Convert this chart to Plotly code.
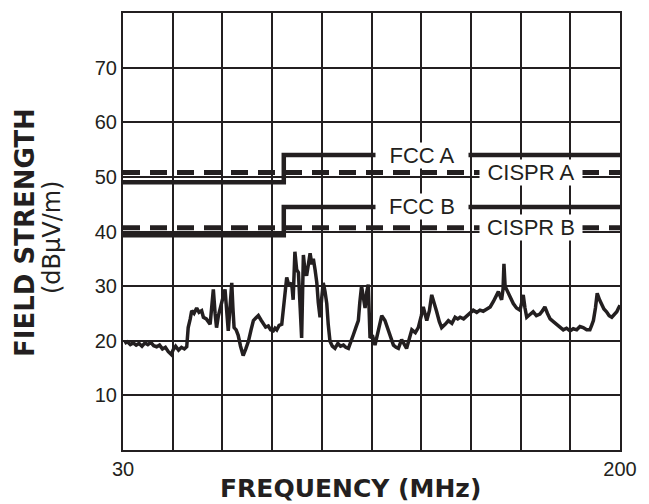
import plotly.graph_objects as go

# ---------------- data ----------------
freq_mhz = [30.5, 31.5, 32.5, 33.5, 34.5, 35.5, 36.5, 37.5, 38.5, 39.5, 40.5, 41.5, 42.5, 43.5, 44.5,
            45.5, 46.5, 47.2, 48.0, 49.0, 50.0, 51.0, 51.8, 52.3, 53.0, 53.5, 54.3, 55.2, 56.0, 56.9,
            57.5, 58.5, 59.8, 60.3, 60.9, 61.5, 62.0, 62.6, 63.2, 64.0, 64.9, 65.4, 66.0, 66.6, 67.2,
            67.6, 68.0, 68.7, 69.4, 70.2, 71.1, 72.0, 72.9, 73.8, 74.6, 75.5, 76.3, 77.2, 78.0, 78.8,
            79.7, 80.5, 81.4, 82.0, 82.6, 83.4, 84.3, 85.1, 86.0, 86.8, 87.7, 88.2, 88.8, 89.4, 90.0,
            90.6, 91.1, 91.7, 92.2, 92.8, 93.4, 94.0, 94.6, 95.1, 95.7, 96.3, 96.8, 97.4, 98.0, 98.5,
            99.1, 99.7, 100.2, 100.8, 101.6, 102.5, 103.5, 104.4, 105.4, 106.2, 107.1, 108.0, 108.8, 109.7, 110.5,
            111.0, 111.6, 112.2, 112.8, 113.4, 113.9, 114.5, 115.3, 116.2, 117.3, 118.5, 119.6, 120.7, 121.6, 122.5,
            123.4, 124.2, 125.3, 126.2, 127.0, 128.0, 128.8, 130.0, 131.0, 132.0, 132.7, 133.9, 134.8, 135.6, 136.5,
            137.3, 138.2, 139.0, 140.2, 141.3, 142.5, 143.6, 144.5, 145.3, 146.5, 147.6, 148.7, 149.8, 151.0, 152.1,
            153.2, 154.4, 155.6, 156.7, 157.6, 158.4, 159.5, 160.0, 160.3, 160.7, 161.2, 162.3, 163.5, 164.6, 165.8,
            166.4, 166.9, 167.5, 168.1, 169.2, 170.3, 171.4, 172.6, 173.5, 174.3, 175.2, 176.1, 177.2, 178.3, 179.5,
            180.6, 181.7, 182.9, 184.0, 185.2, 186.3, 187.4, 188.6, 189.7, 190.3, 190.9, 191.6, 192.2, 193.0, 193.7,
            194.5, 195.4, 196.3, 197.2, 198.0, 198.9, 199.5, 200.0]
field_dbuv = [19.5, 19.8, 19.3, 19.6, 19.2, 19.5, 19.0, 19.6, 19.3, 19.7, 19.1, 18.9, 19.2, 18.5, 18.8,
              18.0, 17.5, 18.4, 19.0, 18.3, 18.8, 18.5, 18.9, 22.4, 24.0, 25.5, 25.0, 26.0, 25.2, 25.5,
              24.3, 24.0, 23.0, 26.0, 29.4, 25.0, 22.4, 24.5, 26.0, 27.5, 29.4, 25.0, 21.8, 26.0, 30.6,
              26.0, 22.4, 22.0, 21.0, 19.0, 17.3, 18.5, 19.9, 22.0, 23.7, 24.2, 24.6, 23.8, 23.0, 22.5,
              22.7, 22.0, 21.8, 22.3, 22.0, 22.8, 23.0, 27.0, 31.6, 30.0, 30.6, 27.5, 36.3, 33.0, 32.5,
              26.0, 20.5, 35.7, 33.0, 31.9, 34.0, 36.0, 34.0, 35.0, 33.0, 30.6, 27.0, 24.3, 28.0, 30.6,
              29.0, 26.8, 23.0, 19.9, 19.0, 18.6, 19.5, 19.0, 19.2, 18.8, 18.6, 19.8, 21.1, 22.5, 23.7,
              27.0, 30.0, 28.0, 26.0, 29.0, 30.3, 20.5, 21.0, 19.2, 22.0, 24.6, 23.7, 21.8, 20.5, 19.2,
              18.8, 18.6, 20.2, 19.5, 18.6, 20.5, 22.0, 21.5, 22.4, 24.5, 26.2, 23.7, 25.5, 28.4, 27.0,
              25.3, 23.5, 22.4, 23.0, 23.7, 23.2, 24.3, 24.0, 24.3, 24.0, 24.6, 25.0, 25.6, 25.2, 25.6,
              25.4, 25.9, 26.2, 27.2, 28.0, 29.0, 27.5, 29.5, 34.1, 30.0, 29.4, 28.0, 26.8, 26.0, 25.6,
              27.0, 28.4, 26.0, 24.3, 24.8, 25.3, 24.6, 24.9, 25.5, 26.2, 25.0, 24.0, 23.5, 23.0, 22.6,
              22.0, 22.3, 21.8, 22.2, 22.0, 22.6, 22.4, 22.0, 22.0, 22.8, 23.7, 26.0, 28.7, 27.5, 26.8,
              25.8, 25.3, 24.6, 24.3, 24.8, 25.3, 26.0, 26.5]

limit_freq = [30, 85, 200]
fcc_a = [49.0, 54.0, 54.0]
fcc_b = [39.3, 44.5, 44.5]
cispr_freq = [30, 200]
cispr_a = [50.8, 50.8]
cispr_b = [40.7, 40.7]

limit_labels = ["FCC A", "CISPR A", "FCC B", "CISPR B"]
label_freq = [132.2, 169.6, 132.2, 169.6]
label_level = [54.0, 50.8, 44.5, 40.7]
label_box_width = [92, 102, 92, 102]

x_gridvals = [30, 47, 64, 81, 98, 115, 132, 149, 166, 183, 200]
x_ticktext = ["30", "", "", "", "", "", "", "", "", "", "200"]
y_tickvals = [10, 20, 30, 40, 50, 60, 70]

INK = "#231f20"

fig = go.Figure()

fig.add_trace(go.Scatter(x=freq_mhz, y=field_dbuv, mode="lines",
                         line=dict(color=INK, width=3.5), hoverinfo="skip"))
fig.add_trace(go.Scatter(x=cispr_freq, y=cispr_a, mode="lines",
                         line=dict(color=INK, width=5, dash="17px,10px")))
fig.add_trace(go.Scatter(x=cispr_freq, y=cispr_b, mode="lines",
                         line=dict(color=INK, width=5, dash="17px,10px")))
fig.add_trace(go.Scatter(x=limit_freq, y=fcc_a, mode="lines",
                         line=dict(color=INK, width=4.5, shape="hv")))
fig.add_trace(go.Scatter(x=limit_freq, y=fcc_b, mode="lines",
                         line=dict(color=INK, width=4.5, shape="hv")))

for txt, fx, lv, w in zip(limit_labels, label_freq, label_level, label_box_width):
    fig.add_annotation(x=fx, y=lv, xref="x", yref="y", text=txt, showarrow=False,
                       font=dict(family="Liberation Sans, Arial, sans-serif", size=22, color=INK),
                       bgcolor="white", width=w, borderpad=0, xanchor="center", yanchor="middle")

# axis titles
fig.add_annotation(x=0.457, y=-0.087, xref="paper", yref="paper", text="<b>FREQUENCY (MHz)</b>",
                   showarrow=False, xanchor="center", yanchor="middle",
                   font=dict(family="DejaVu Sans, sans-serif", size=25, color=INK))
fig.add_annotation(x=-0.197, y=0.497, xref="paper", yref="paper", text="<b>FIELD STRENGTH</b>",
                   showarrow=False, xanchor="center", yanchor="middle", textangle=-90,
                   font=dict(family="DejaVu Sans, sans-serif", size=26, color=INK))
fig.add_annotation(x=-0.143, y=0.487, xref="paper", yref="paper", text="(dBµV/m)",
                   showarrow=False, xanchor="center", yanchor="middle", textangle=-90,
                   font=dict(family="DejaVu Sans, sans-serif", size=24, color=INK))

fig.update_layout(
    width=649, height=504, autosize=False,
    margin=dict(l=123, r=29, t=11, b=54),
    paper_bgcolor="white", plot_bgcolor="white",
    showlegend=False,
    xaxis=dict(range=[30, 200], tickvals=x_gridvals, ticktext=x_ticktext,
               showgrid=True, gridcolor=INK, gridwidth=1.5, zeroline=False,
               showline=True, linecolor=INK, linewidth=2, mirror=True,
               ticks="", ticklabelstandoff=0,
               tickfont=dict(family="Liberation Sans, Arial, sans-serif", size=20, color=INK)),
    yaxis=dict(range=[0, 80], tickvals=y_tickvals,
               showgrid=True, gridcolor=INK, gridwidth=1.5, zeroline=False,
               showline=True, linecolor=INK, linewidth=2, mirror=True,
               ticks="",
               tickfont=dict(family="Liberation Sans, Arial, sans-serif", size=20, color=INK)),
)

# remove the browser's default 8px body margin so the figure sits at the page origin
fig.write_html("out.html", config={"displayModeBar": False},
               post_script="document.body.style.margin='0';")
